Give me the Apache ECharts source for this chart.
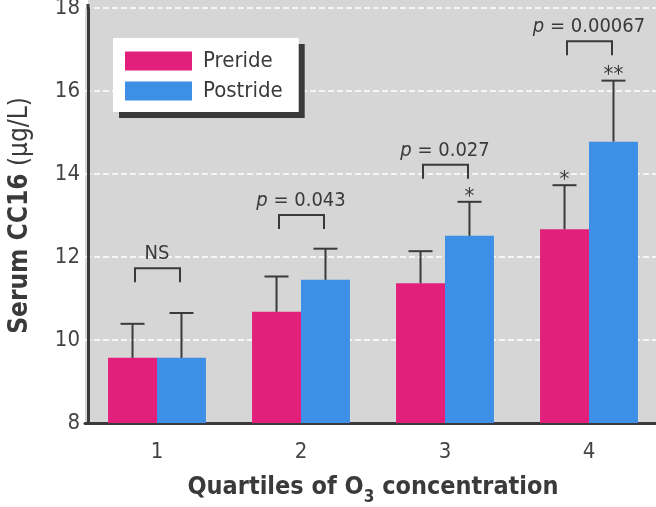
<!DOCTYPE html>
<html>
<head>
<meta charset="utf-8">
<script src="https://cdn.jsdelivr.net/npm/echarts@6/dist/echarts.min.js"></script>
<style>html,body{margin:0;padding:0;background:#fff}#c{width:656px;height:507px}</style>
</head>
<body>
<div id="c"></div>
<script>
const categories = ['1', '2', '3', '4'];
const preride = [9.57, 10.68, 11.37, 12.67];
const postride = [9.57, 11.45, 12.51, 14.78];
const prerideUpper = [10.39, 11.53, 12.14, 13.73];
const postrideUpper = [10.65, 12.2, 13.33, 16.25];
const prerideMarks = ['', '', '', '*'];
const postrideMarks = ['', '', '*', '**'];
const bracketLevel = [11.73, 13.01, 14.22, 17.2];
const bracketItalic = ['', 'p', 'p', 'p'];
const bracketText = ['NS', ' = 0.043', ' = 0.027', ' = 0.00067'];

const FONT = "'Liberation Sans Narrow', 'DejaVu Sans Condensed', 'Roboto Condensed', sans-serif";
const INK = '#3a3a3a';
const PINK = '#e2207c';
const BLUE = '#3e8fe6';
const GRAY = '#d6d6d6';

function errorSeries(name, means, uppers, marks, side) {
  return {
    type: 'custom',
    name: name + ' err',
    z: 5,
    data: means.map((m, i) => [i, m, uppers[i]]),
    renderItem: function (params, api) {
      const i = api.value(0);
      const base = api.coord([i, api.value(1)]);
      const top = api.coord([i, api.value(2)]);
      const bw = api.size([1, 0])[0] * 0.34;
      const x = base[0] + side * bw / 2;
      const children = [
        { type: 'line', shape: { x1: x, y1: base[1], x2: x, y2: top[1] }, style: { stroke: INK, lineWidth: 2 } },
        { type: 'line', shape: { x1: x - 12, y1: top[1], x2: x + 12, y2: top[1] }, style: { stroke: INK, lineWidth: 2 } }
      ];
      const mk = marks[params.dataIndex];
      if (mk) {
        children.push({ type: 'text', style: { text: mk, x: x, y: top[1] + 6, align: 'center', verticalAlign: 'bottom', fill: INK, font: '22px ' + FONT } });
      }
      return { type: 'group', children: children };
    }
  };
}

const chart = echarts.init(document.getElementById('c'));
chart.setOption({
  animation: false,
  backgroundColor: '#ffffff',
  textStyle: { fontFamily: FONT },
  grid: { left: 85, right: -5, top: 8, bottom: 84, outerBoundsMode: 'none', containLabel: false, show: true, backgroundColor: GRAY, borderWidth: 0 },
  graphic: [
    { type: 'rect', left: 88, top: 0, shape: { width: 570, height: 9 }, style: { fill: GRAY }, z: -1, silent: true },
    { type: 'line', shape: { x1: 88, y1: 4, x2: 88, y2: 9 }, style: { stroke: INK, lineWidth: 3 }, z: 1, silent: true }
  ],
  legend: {
    orient: 'vertical', left: 113, top: 38,
    padding: [12, 16, 10, 12], itemGap: 8, itemWidth: 67, itemHeight: 19,
    backgroundColor: '#ffffff', shadowColor: '#3a3a3a', shadowBlur: 0, shadowOffsetX: 6, shadowOffsetY: 6,
    data: [{ name: 'Preride', icon: 'rect' }, { name: 'Postride', icon: 'rect' }],
    textStyle: { fontSize: 22, color: INK, fontFamily: FONT, padding: [0, 0, 0, 6] }
  },
  xAxis: {
    type: 'category', data: categories,
    axisLine: { lineStyle: { color: INK, width: 3 } },
    axisTick: { show: false },
    axisLabel: { fontSize: 22, color: '#444', margin: 18, fontFamily: FONT },
    name: 'Quartiles of O{sub|3} concentration',
    nameLocation: 'middle', nameGap: 46,
    nameTextStyle: {
      fontSize: 25, fontWeight: 'bold', color: INK, fontFamily: FONT,
      rich: { sub: { fontSize: 17, fontWeight: 'bold', color: INK, fontFamily: FONT, verticalAlign: 'bottom', padding: [20, 0, 0, 0] } }
    }
  },
  yAxis: {
    type: 'value', min: 8, max: 18, interval: 2, offset: -3,
    axisLine: { show: true, lineStyle: { color: INK, width: 3 } },
    axisTick: { show: false },
    axisLabel: { fontSize: 22, color: '#444', margin: 8, fontFamily: FONT },
    splitLine: { show: true, lineStyle: { color: '#ffffff', type: [6, 3], width: 1.5 } },
    name: '{b|Serum CC16} (μg/L)',
    nameLocation: 'middle', nameRotate: 90, nameGap: 55,
    nameTextStyle: {
      fontSize: 26, color: INK, fontFamily: FONT,
      rich: { b: { fontSize: 26, fontWeight: 'bold', color: INK, fontFamily: FONT } }
    }
  },
  series: [
    { type: 'bar', name: 'Preride', data: preride, barWidth: '34%', barGap: '0%', itemStyle: { color: PINK } },
    { type: 'bar', name: 'Postride', data: postride, barWidth: '34%', barGap: '0%', itemStyle: { color: BLUE } },
    errorSeries('Preride', preride, prerideUpper, prerideMarks, -1),
    errorSeries('Postride', postride, postrideUpper, postrideMarks, 1),
    {
      type: 'custom', name: 'brackets', z: 6,
      data: bracketLevel.map((v, i) => [i, v]),
      renderItem: function (params, api) {
        const i = api.value(0);
        const p = api.coord([i, api.value(1)]);
        const x1 = p[0] - 22, x2 = p[0] + 23, y = p[1];
        const it = bracketItalic[params.dataIndex];
        const txt = (it ? '{i|' + it + '}' : '') + bracketText[params.dataIndex];
        return {
          type: 'group', children: [
            { type: 'polyline', shape: { points: [[x1, y + 14], [x1, y], [x2, y], [x2, y + 14]] }, style: { stroke: INK, lineWidth: 2, fill: null } },
            { type: 'text', style: { text: txt, x: p[0], y: y - 4, align: 'center', verticalAlign: 'bottom', fill: INK, fontSize: 20, fontFamily: FONT,
              rich: { i: { fontStyle: 'italic', fontSize: 20, fontFamily: FONT, fill: INK } } } }
          ]
        };
      }
    }
  ]
});
</script>
</body>
</html>
